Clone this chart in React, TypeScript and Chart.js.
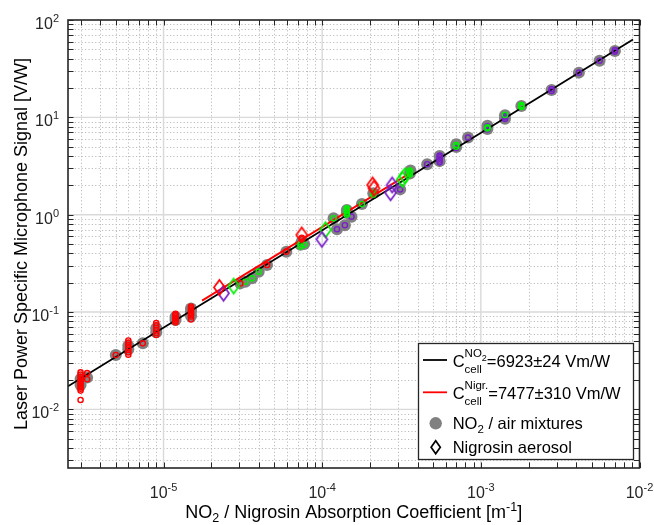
import React, { useEffect, useRef } from 'react';
import { Chart, registerables } from 'chart.js';

Chart.register(...registerables);

const FONT = "'Liberation Sans', Arial, Helvetica, sans-serif";

// axis ranges
const X_MIN = 2.5e-6;
const X_MAX = 1e-2;
const Y_MIN = 2.5e-3;
const Y_MAX = 100;
const xTickExps = [-5, -4, -3, -2];
const yTickExps = [-2, -1, 0, 1, 2];

// fit lines (endpoints)
const fitNO2X = [2.5e-6, 9.1e-3];
const fitNO2Y = [0.0173, 63.0];
const fitNigrX = [1.75e-5, 3.6e-4];
const fitNigrY = [0.131, 2.69];

// NO2 / air mixtures (gray)
const grayX = [3.0e-6, 3.0e-6, 3.3e-6, 5.0e-6, 6.0e-6, 6.0e-6, 7.4e-6, 9.0e-6, 9.0e-6, 1.19e-5, 1.19e-5, 1.49e-5, 1.49e-5, 1.49e-5,
  3.05e-5, 3.28e-5, 3.61e-5, 3.98e-5, 4.49e-5, 5.94e-5, 7.3e-5, 7.44e-5, 7.7e-5,
  1.18e-4, 1.24e-4, 1.39e-4, 1.43e-4, 1.43e-4, 1.53e-4, 1.78e-4, 2.1e-4, 3.1e-4, 3.57e-4, 3.6e-4, 4.59e-4, 5.5e-4, 5.5e-4,
  7.0e-4, 7.0e-4, 8.3e-4, 1.1e-3, 1.1e-3, 1.42e-3, 1.42e-3, 1.8e-3, 2.79e-3, 4.15e-3, 5.6e-3, 7.0e-3];
const grayY = [0.0178, 0.0205, 0.0212, 0.0362, 0.0415, 0.045, 0.0477, 0.062, 0.068, 0.083, 0.089, 0.091, 0.102, 0.109,
  0.197, 0.205, 0.222, 0.26, 0.304, 0.417, 0.49, 0.53, 0.50,
  0.92, 0.71, 0.78, 1.04, 1.12, 0.955, 1.29, 1.66, 1.82, 2.65, 2.85, 3.3, 3.55, 4.0,
  4.95, 5.3, 6.2, 7.6, 8.2, 9.7, 10.5, 13.1, 19.1, 28.8, 38.2, 48.1];

// small hollow circles per experiment
const redCircX = [3.0e-6, 3.0e-6, 3.0e-6, 3.0e-6, 3.0e-6, 3.0e-6, 3.0e-6, 3.0e-6, 3.0e-6, 3.0e-6, 3.0e-6, 3.3e-6, 3.3e-6,
  5.0e-6, 6.0e-6, 6.0e-6, 6.0e-6, 6.0e-6, 6.0e-6, 6.0e-6, 6.0e-6, 7.4e-6,
  9.0e-6, 9.0e-6, 9.0e-6, 9.0e-6, 9.0e-6, 9.0e-6,
  1.19e-5, 1.19e-5, 1.19e-5, 1.19e-5, 1.19e-5, 1.19e-5, 1.19e-5,
  1.49e-5, 1.49e-5, 1.49e-5, 1.49e-5, 1.49e-5, 1.49e-5, 1.49e-5, 1.49e-5,
  3.05e-5, 4.49e-5, 5.94e-5, 7.44e-5, 7.44e-5];
const redCircY = [0.024, 0.0228, 0.0216, 0.0205, 0.0195, 0.0186, 0.0178, 0.017, 0.0163, 0.0156, 0.0125, 0.0236, 0.0204,
  0.0362, 0.051, 0.0485, 0.046, 0.0435, 0.041, 0.0385, 0.0365, 0.0477,
  0.077, 0.073, 0.069, 0.065, 0.061, 0.058,
  0.096, 0.093, 0.09, 0.087, 0.084, 0.081, 0.078,
  0.114, 0.11, 0.106, 0.102, 0.098, 0.094, 0.09, 0.084,
  0.197, 0.304, 0.417, 0.56, 0.58];
const greenCircX = [3.28e-5, 3.61e-5, 3.98e-5, 7.3e-5, 7.3e-5, 7.7e-5, 1.18e-4,
  1.43e-4, 1.43e-4, 1.43e-4, 1.43e-4, 1.43e-4, 1.78e-4, 2.1e-4, 2.1e-4,
  3.57e-4, 3.57e-4, 3.57e-4, 3.57e-4, 7.0e-4, 7.0e-4, 1.1e-3, 1.1e-3, 1.42e-3, 1.8e-3, 1.8e-3, 1.8e-3];
const greenCircY = [0.205, 0.222, 0.26, 0.47, 0.5, 0.49, 0.92,
  1.0, 1.04, 1.08, 1.12, 1.16, 1.29, 1.6, 1.68,
  2.6, 2.68, 2.76, 2.84, 5.0, 5.2, 7.7, 7.9, 10.6, 12.8, 13.1, 13.4];
const purpleCircX = [1.24e-4, 1.39e-4, 1.53e-4, 3.1e-4, 4.59e-4,
  5.5e-4, 5.5e-4, 5.5e-4, 5.5e-4, 5.5e-4, 7.0e-4, 8.3e-4, 1.1e-3, 1.1e-3,
  1.42e-3, 1.42e-3, 1.42e-3, 2.79e-3, 2.79e-3, 4.15e-3, 5.6e-3, 7.0e-3, 7.0e-3];
const purpleCircY = [0.71, 0.78, 0.955, 1.82, 3.3,
  3.45, 3.6, 3.75, 3.9, 4.05, 4.85, 6.2, 7.5, 8.1,
  9.6, 9.95, 10.3, 18.7, 19.5, 28.8, 38.2, 47.3, 49.0];

// Nigrosin aerosol (diamonds)
const redDiaX = [2.25e-5, 7.44e-5, 2.08e-4, 2.12e-4];
const redDiaY = [0.179, 0.62, 2.02, 1.87];
const purpleDiaX = [2.39e-5, 9.96e-5, 2.76e-4, 2.7e-4];
const purpleDiaY = [0.156, 0.558, 2.02, 1.68];
const greenDiaX = [2.77e-5, 1.05e-4, 3.2e-4, 3.32e-4];
const greenDiaY = [0.185, 0.70, 2.31, 2.5];

const GRAY = '#808080';
const RED = '#ff0000';
const GREEN = '#00ee00';
const PURPLE = '#7a1fc8';
const AXIS = '#262626';

const zip = (xs: number[], ys: number[]) => xs.map((x, i) => ({ x, y: ys[i] }));

function makeDiamond(color: string, w = 11, h = 15, lw = 1.7): HTMLCanvasElement {
  const c = document.createElement('canvas');
  c.width = w + 4;
  c.height = h + 4;
  const g = c.getContext('2d')!;
  const cx = c.width / 2, cy = c.height / 2;
  g.strokeStyle = color;
  g.lineWidth = lw;
  g.lineJoin = 'miter';
  g.beginPath();
  g.moveTo(cx, cy - h / 2);
  g.lineTo(cx + w / 2, cy);
  g.lineTo(cx, cy + h / 2);
  g.lineTo(cx - w / 2, cy);
  g.closePath();
  g.stroke();
  return c;
}

type Seg = { t: string; size: number; dy: number };

function segWidth(ctx: CanvasRenderingContext2D, segs: Seg[]) {
  let w = 0;
  for (const s of segs) {
    ctx.font = `${s.size}px ${FONT}`;
    w += ctx.measureText(s.t).width;
  }
  return w;
}

function drawSegs(ctx: CanvasRenderingContext2D, segs: Seg[], x: number, y: number, align: 'left' | 'center' | 'right') {
  const total = segWidth(ctx, segs);
  let cx = align === 'left' ? x : align === 'center' ? x - total / 2 : x - total;
  ctx.textAlign = 'left';
  ctx.textBaseline = 'alphabetic';
  for (const s of segs) {
    ctx.font = `${s.size}px ${FONT}`;
    ctx.fillText(s.t, cx, y + s.dy);
    cx += ctx.measureText(s.t).width;
  }
  return cx;
}

const TICK = 16;
const TSUP = 11;

const customDraw = {
  id: 'matlabLook',
  beforeDatasetsDraw(chart: any) {
    const { ctx, chartArea: a, scales } = chart;
    const xs = scales.x, ys = scales.y;
    ctx.save();
    ctx.fillStyle = '#ffffff';
    ctx.fillRect(a.left, a.top, a.right - a.left, a.bottom - a.top);
    // minor grid
    ctx.strokeStyle = '#b4b4b4';
    ctx.lineWidth = 0.9;
    ctx.setLineDash([1.2, 2.2]);
    for (let e = -7; e <= 2; e++) {
      for (let m = 2; m <= 9; m++) {
        const v = m * Math.pow(10, e);
        if (v > X_MIN && v < X_MAX) {
          const px = Math.round(xs.getPixelForValue(v)) + 0.5;
          ctx.beginPath(); ctx.moveTo(px, a.top); ctx.lineTo(px, a.bottom); ctx.stroke();
        }
        if (v > Y_MIN && v < Y_MAX) {
          const py = Math.round(ys.getPixelForValue(v)) + 0.5;
          ctx.beginPath(); ctx.moveTo(a.left, py); ctx.lineTo(a.right, py); ctx.stroke();
        }
      }
    }
    // major grid
    ctx.setLineDash([]);
    ctx.strokeStyle = '#d9d9d9';
    ctx.lineWidth = 1.4;
    for (const e of xTickExps) {
      const v = Math.pow(10, e);
      if (v > X_MIN && v < X_MAX) {
        const px = xs.getPixelForValue(v);
        ctx.beginPath(); ctx.moveTo(px, a.top); ctx.lineTo(px, a.bottom); ctx.stroke();
      }
    }
    for (const e of yTickExps) {
      const v = Math.pow(10, e);
      if (v > Y_MIN && v < Y_MAX) {
        const py = ys.getPixelForValue(v);
        ctx.beginPath(); ctx.moveTo(a.left, py); ctx.lineTo(a.right, py); ctx.stroke();
      }
    }
    ctx.restore();
  },
  afterDatasetsDraw(chart: any) {
    const { ctx, chartArea: a, scales } = chart;
    const xs = scales.x, ys = scales.y;
    ctx.save();
    // ticks (inward, all four sides)
    ctx.strokeStyle = AXIS;
    ctx.lineWidth = 1;
    const TL = 5.5;
    for (let e = -7; e <= 2; e++) {
      for (let m = 1; m <= 9; m++) {
        const v = m * Math.pow(10, e);
        if (v >= X_MIN && v <= X_MAX) {
          const px = Math.round(xs.getPixelForValue(v)) + 0.5;
          ctx.beginPath();
          ctx.moveTo(px, a.bottom); ctx.lineTo(px, a.bottom - TL);
          ctx.moveTo(px, a.top); ctx.lineTo(px, a.top + TL);
          ctx.stroke();
        }
        if (v >= Y_MIN && v <= Y_MAX) {
          const py = Math.round(ys.getPixelForValue(v)) + 0.5;
          ctx.beginPath();
          ctx.moveTo(a.left, py); ctx.lineTo(a.left + TL, py);
          ctx.moveTo(a.right, py); ctx.lineTo(a.right - TL, py);
          ctx.stroke();
        }
      }
    }
    // box
    ctx.lineWidth = 1.6;
    ctx.strokeRect(a.left, a.top, a.right - a.left, a.bottom - a.top);

    // tick labels
    ctx.fillStyle = AXIS;
    for (const e of xTickExps) {
      const px = xs.getPixelForValue(Math.pow(10, e));
      drawSegs(ctx, [{ t: '10', size: TICK, dy: 0 }, { t: String(e), size: TSUP, dy: -7 }], px, a.bottom + 30, 'center');
    }
    for (const e of yTickExps) {
      const py = ys.getPixelForValue(Math.pow(10, e));
      drawSegs(ctx, [{ t: '10', size: TICK, dy: 0 }, { t: String(e), size: TSUP, dy: -7 }], a.left - 9, py + 9, 'right');
    }
    // axis titles
    ctx.fillStyle = '#000000';
    const xt: Seg[] = [
      { t: 'NO', size: 18, dy: 0 }, { t: '2', size: 12.5, dy: 4 },
      { t: ' / Nigrosin Absorption Coefficient [m', size: 18, dy: 0 },
      { t: '-1', size: 12.5, dy: -7.5 }, { t: ']', size: 18, dy: 0 },
    ];
    drawSegs(ctx, xt, (a.left + a.right) / 2, 518, 'center');
    ctx.save();
    ctx.translate(27, (a.top + a.bottom) / 2);
    ctx.rotate(-Math.PI / 2);
    drawSegs(ctx, [{ t: 'Laser Power Specific Microphone Signal [V/W]', size: 18, dy: 0 }], 0, 0, 'center');
    ctx.restore();

    // legend
    const L = 418, T = 343, R = 633, B = 459;
    ctx.fillStyle = '#ffffff';
    ctx.fillRect(L, T, R - L, B - T);
    ctx.strokeStyle = AXIS;
    ctx.lineWidth = 1.3;
    ctx.strokeRect(L + 0.5, T + 0.5, R - L, B - T);
    const LX0 = 423, LX1 = 447, TX = 452.7, LS = 16.5, SS = 11.5;
    ctx.lineWidth = 1.8;
    ctx.strokeStyle = '#000000';
    ctx.beginPath(); ctx.moveTo(LX0, 360); ctx.lineTo(LX1, 360); ctx.stroke();
    ctx.strokeStyle = RED;
    ctx.beginPath(); ctx.moveTo(LX0, 392.3); ctx.lineTo(LX1, 392.3); ctx.stroke();
    ctx.fillStyle = '#000000';
    // row 1
    let cx = drawSegs(ctx, [{ t: 'C', size: LS, dy: 0 }], TX, 366.7, 'left');
    let supEnd = drawSegs(ctx, [{ t: 'NO', size: SS, dy: -10 }, { t: '2', size: 9, dy: -6 }], cx, 366.7, 'left');
    let subEnd = drawSegs(ctx, [{ t: 'cell', size: SS, dy: 6.3 }], cx, 366.7, 'left');
    drawSegs(ctx, [{ t: '=6923\u00b124 Vm/W', size: LS, dy: 0 }], Math.max(supEnd, subEnd), 366.7, 'left');
    // row 2
    cx = drawSegs(ctx, [{ t: 'C', size: LS, dy: 0 }], TX, 398.5, 'left');
    supEnd = drawSegs(ctx, [{ t: 'Nigr.', size: SS, dy: -10 }], cx, 398.5, 'left');
    subEnd = drawSegs(ctx, [{ t: 'cell', size: SS, dy: 6.3 }], cx, 398.5, 'left');
    drawSegs(ctx, [{ t: '=7477\u00b1310 Vm/W', size: LS, dy: 0 }], Math.max(supEnd, subEnd), 398.5, 'left');
    // row 3
    ctx.fillStyle = GRAY;
    ctx.beginPath(); ctx.arc(435.7, 423.3, 6.2, 0, Math.PI * 2); ctx.fill();
    ctx.fillStyle = '#000000';
    drawSegs(ctx, [{ t: 'NO', size: LS, dy: 0 }, { t: '2', size: SS, dy: 4 }, { t: ' / air mixtures', size: LS, dy: 0 }], TX, 428.5, 'left');
    // row 4
    ctx.strokeStyle = '#000000';
    ctx.lineWidth = 1.7;
    ctx.beginPath();
    ctx.moveTo(435.7, 440.8); ctx.lineTo(440.3, 447.3); ctx.lineTo(435.7, 453.8); ctx.lineTo(431.1, 447.3); ctx.closePath();
    ctx.stroke();
    drawSegs(ctx, [{ t: 'Nigrosin aerosol', size: LS, dy: 0 }], TX, 452.5, 'left');
    ctx.restore();
  },
};

export default function App() {
  const ref = useRef<HTMLCanvasElement | null>(null);
  useEffect(() => {
    if (!ref.current) return;
    const dRed = makeDiamond(RED);
    const dGreen = makeDiamond(GREEN);
    const dPurple = makeDiamond(PURPLE);
    const circ = (label: string, xs: number[], ys: number[], color: string) => ({
      label, data: zip(xs, ys), pointStyle: 'circle', pointRadius: 2.6, borderWidth: 1.4,
      pointBorderColor: color, pointBackgroundColor: 'rgba(0,0,0,0)', showLine: false,
    });
    const dia = (label: string, xs: number[], ys: number[], img: HTMLCanvasElement) => ({
      label, data: zip(xs, ys), pointStyle: img, pointRadius: 8, showLine: false,
    });
    const chart = new Chart(ref.current, {
      type: 'scatter',
      data: {
        datasets: [
          dia('Nigrosin red', redDiaX, redDiaY, dRed),
          dia('Nigrosin purple', purpleDiaX, purpleDiaY, dPurple),
          dia('Nigrosin green', greenDiaX, greenDiaY, dGreen),
          circ('red', redCircX, redCircY, RED),
          circ('green', greenCircX, greenCircY, GREEN),
          circ('purple', purpleCircX, purpleCircY, PURPLE),
          {
            label: 'fit Nigr', data: zip(fitNigrX, fitNigrY), showLine: true, pointRadius: 0,
            borderColor: RED, borderWidth: 1.8, fill: false,
          },
          {
            label: 'fit NO2', data: zip(fitNO2X, fitNO2Y), showLine: true, pointRadius: 0,
            borderColor: '#000000', borderWidth: 1.8, fill: false,
          },
          {
            label: 'NO2 / air mixtures', data: zip(grayX, grayY), pointStyle: 'circle', pointRadius: 6,
            pointBackgroundColor: GRAY, pointBorderColor: GRAY, borderWidth: 0, showLine: false,
          },
        ] as any,
      },
      options: {
        animation: false,
        responsive: false,
        maintainAspectRatio: false,
        layout: { padding: { left: 68, right: 14.5, top: 20, bottom: 57 } },
        plugins: { legend: { display: false }, tooltip: { enabled: false } },
        events: [],
        scales: {
          x: { type: 'logarithmic', min: X_MIN, max: X_MAX, display: false },
          y: { type: 'logarithmic', min: Y_MIN, max: Y_MAX, display: false },
        },
      },
      plugins: [customDraw],
    });
    return () => chart.destroy();
  }, []);
  return (
    <div style={{ position: 'fixed', left: 0, top: 0, width: 654, height: 525, background: '#ffffff' }}>
      <canvas ref={ref} width={654} height={525} style={{ width: 654, height: 525, display: 'block' }} />
    </div>
  );
}
